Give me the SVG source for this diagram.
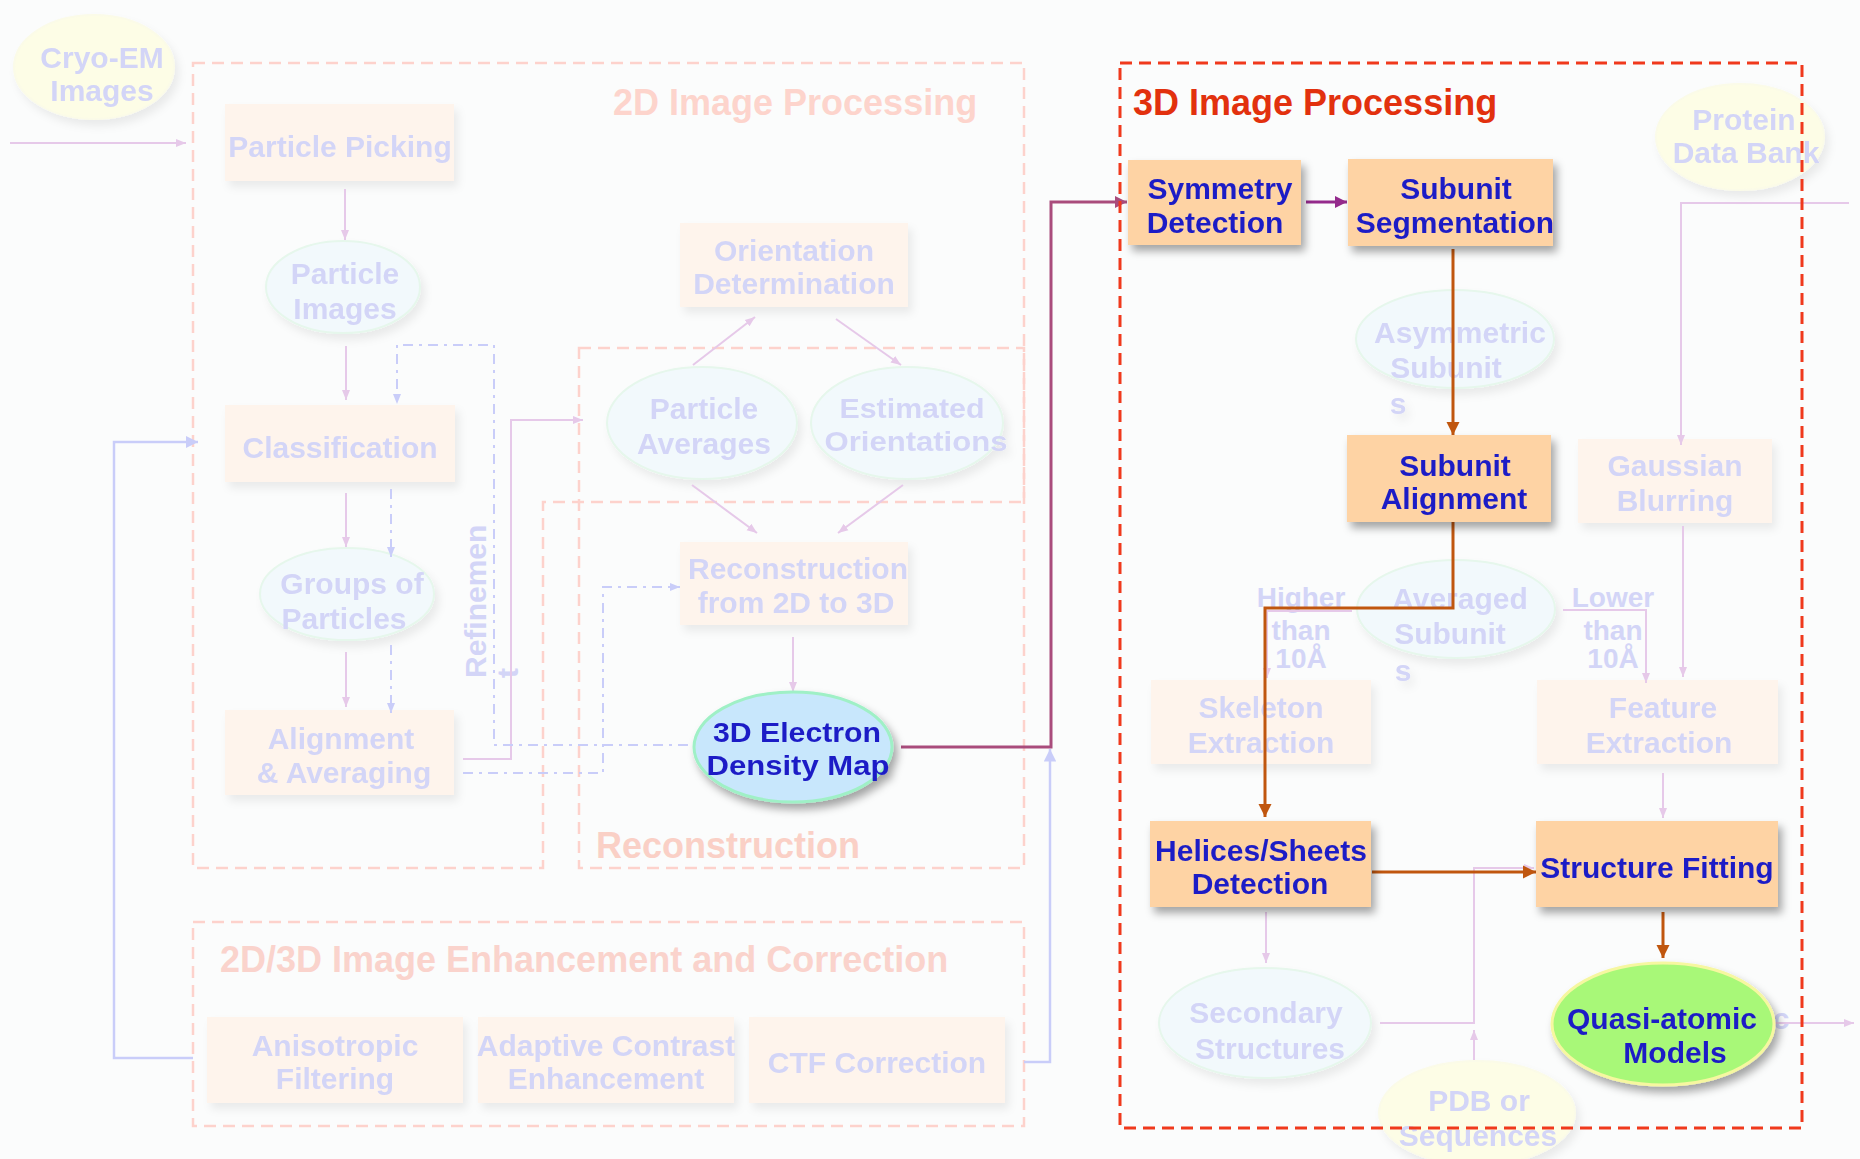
<svg xmlns="http://www.w3.org/2000/svg" width="1860" height="1159" viewBox="0 0 1860 1159">
<defs>
<style>
text{font-family:"Liberation Sans",Arial,sans-serif;font-weight:bold;text-anchor:middle}
.pt{fill:#d3d5f7;font-size:30px}
.bt{fill:#1f1fc6;font-size:30px}
.pb{fill:#fef4ec}
.pe{fill:#f2f9fc;stroke:#e6f7ec;stroke-width:2}
.py{fill:#fdfde6;stroke:#fbfbe8;stroke-width:2}
.bb{fill:#fed3a4}
.frame{fill:none;stroke:#fdd2cc;stroke-width:2.5;stroke-dasharray:12 7}
.red{fill:none;stroke:#f0391c;stroke-width:3;stroke-dasharray:12 7}
.ttl{font-size:36px;text-anchor:start}
.pk{fill:none;stroke:#e6c9e9;stroke-width:2}
.bl{fill:none;stroke:#c9cdf9;stroke-width:2.5}
.dd{fill:none;stroke:#c9cdf9;stroke-width:2;stroke-dasharray:10 6 3 6}
.pu{fill:none;stroke:#a94c7c;stroke-width:3}
.br{fill:none;stroke:#c0560e;stroke-width:3}
</style>
<marker id="apk" viewBox="0 0 10 10" refX="10" refY="5" markerWidth="5" markerHeight="5" orient="auto"><path d="M0,1 L10,5 L0,9 z" fill="#e6c9e9"/></marker>
<marker id="abl" viewBox="0 0 10 10" refX="10" refY="5" markerWidth="5" markerHeight="5" orient="auto"><path d="M0,0 L10,5 L0,10 z" fill="#c9cdf9"/></marker>
<marker id="add" viewBox="0 0 10 10" refX="10" refY="5" markerWidth="5" markerHeight="5" orient="auto"><path d="M0,1 L10,5 L0,9 z" fill="#c9cdf9"/></marker>
<marker id="apu" viewBox="0 0 10 10" refX="10" refY="5" markerWidth="4" markerHeight="4" orient="auto"><path d="M0,0 L10,5 L0,10 z" fill="#a94c7c"/></marker>
<marker id="apv" viewBox="0 0 10 10" refX="10" refY="5" markerWidth="4" markerHeight="4" orient="auto"><path d="M0,0 L10,5 L0,10 z" fill="#942a8c"/></marker>
<marker id="abr" viewBox="0 0 10 10" refX="10" refY="5" markerWidth="4.5" markerHeight="4.5" orient="auto"><path d="M0,0 L10,5 L0,10 z" fill="#c0560e"/></marker>
<filter id="sh" x="-20%" y="-20%" width="150%" height="160%"><feDropShadow dx="4" dy="6" stdDeviation="4" flood-color="#000" flood-opacity="0.35"/></filter>
<filter id="shp" x="-20%" y="-20%" width="150%" height="160%"><feDropShadow dx="4" dy="6" stdDeviation="4" flood-color="#000" flood-opacity="0.07"/></filter>
</defs>
<rect width="1860" height="1159" fill="#fbfcfc"/>

<g id="frames">
<path id="frame-2d" class="frame" d="M193,63 H1024 V502 H543 V868 H193 Z"/>
<rect id="frame-recon" class="frame" x="579" y="348" width="445" height="520"/>
<rect id="frame-enh" class="frame" x="193" y="922" width="831" height="204"/>
<text class="ttl" x="613" y="115" fill="#fdd4cc">2D Image Processing</text>
<text class="ttl" x="596" y="858" fill="#fad0c6">Reconstruction</text>
<text class="ttl" x="220" y="972" fill="#fad3cc">2D/3D Image Enhancement and Correction</text>
</g>

<g id="pale-nodes" filter="url(#shp)">
<g id="cryo-em"><ellipse class="py" cx="94" cy="67" rx="80" ry="52"/><text class="pt" x="102" y="68">Cryo-EM</text><text class="pt" x="102" y="101">Images</text></g>
<g id="particle-picking"><rect class="pb" x="225" y="104" width="229" height="77"/><text class="pt" x="340" y="157">Particle Picking</text></g>
<g id="particle-images"><ellipse class="pe" cx="343" cy="287" rx="77" ry="46"/><text class="pt" x="345" y="284">Particle</text><text class="pt" x="345" y="319">Images</text></g>
<g id="classification"><rect class="pb" x="225" y="405" width="230" height="77"/><text class="pt" x="340" y="458">Classification</text></g>
<g id="groups"><ellipse class="pe" cx="347" cy="594" rx="87" ry="46"/><text class="pt" x="352" y="594">Groups of</text><text class="pt" x="344" y="629">Particles</text></g>
<g id="alignment-averaging"><rect class="pb" x="225" y="710" width="229" height="85"/><text class="pt" x="341" y="749">Alignment</text><text class="pt" x="344" y="783">&amp; Averaging</text></g>
<g id="orientation"><rect class="pb" x="680" y="223" width="228" height="84"/><text class="pt" x="794" y="261">Orientation</text><text class="pt" x="794" y="294">Determination</text></g>
<g id="particle-averages"><ellipse class="pe" cx="702" cy="423" rx="95" ry="56"/><text class="pt" x="704" y="419">Particle</text><text class="pt" x="704" y="454">Averages</text></g>
<g id="estimated-orientations"><ellipse class="pe" cx="907" cy="423" rx="96" ry="56"/><text class="pt" x="912" y="418" style="font-size:28px" textLength="145" lengthAdjust="spacingAndGlyphs">Estimated</text><text class="pt" x="916" y="451" style="font-size:28px" textLength="183" lengthAdjust="spacingAndGlyphs">Orientations</text></g>
<g id="reconstruction"><rect class="pb" x="680" y="542" width="228" height="83"/><text class="pt" x="798" y="579">Reconstruction</text><text class="pt" x="796" y="613">from 2D to 3D</text></g>
<g id="anisotropic"><rect class="pb" x="207" y="1017" width="256" height="86"/><text class="pt" x="335" y="1056">Anisotropic</text><text class="pt" x="335" y="1089">Filtering</text></g>
<g id="adaptive"><rect class="pb" x="478" y="1017" width="256" height="86"/><text class="pt" x="606" y="1056">Adaptive Contrast</text><text class="pt" x="606" y="1089">Enhancement</text></g>
<g id="ctf"><rect class="pb" x="749" y="1017" width="256" height="86"/><text class="pt" x="877" y="1073">CTF Correction</text></g>
<g id="protein-data-bank"><ellipse class="py" cx="1740" cy="137" rx="84" ry="53"/><text class="pt" x="1744" y="130">Protein</text><text class="pt" x="1746" y="163">Data Bank</text></g>
<g id="asymmetric"><ellipse class="pe" cx="1455" cy="339" rx="99" ry="49"/><text class="pt" x="1460" y="343">Asymmetric</text><text class="pt" x="1446" y="378">Subunit</text><text class="pt" x="1398" y="414">s</text></g>
<g id="gaussian"><rect class="pb" x="1578" y="439" width="194" height="84"/><text class="pt" x="1675" y="476">Gaussian</text><text class="pt" x="1675" y="511">Blurring</text></g>
<g id="averaged"><ellipse class="pe" cx="1456" cy="609" rx="99" ry="49"/><text class="pt" x="1460" y="609">Averaged</text><text class="pt" x="1450" y="644">Subunit</text><text class="pt" x="1403" y="681">s</text></g>
<g id="skeleton"><rect class="pb" x="1151" y="680" width="220" height="84"/><text class="pt" x="1261" y="718">Skeleton</text><text class="pt" x="1261" y="753">Extraction</text></g>
<g id="feature"><rect class="pb" x="1537" y="680" width="241" height="84"/><text class="pt" x="1663" y="718">Feature</text><text class="pt" x="1659" y="753">Extraction</text></g>
<g id="secondary"><ellipse class="pe" cx="1265" cy="1023" rx="106" ry="55"/><text class="pt" x="1266" y="1023">Secondary</text><text class="pt" x="1270" y="1059">Structures</text></g>
<g id="pdb"><ellipse class="py" cx="1477" cy="1113" rx="98" ry="52"/><text class="pt" x="1479" y="1111">PDB or</text><text class="pt" x="1478" y="1146">Sequences</text></g>
</g>

<g id="labels">
<text class="pt" transform="translate(486,678) rotate(-90)" style="text-anchor:start"><tspan x="0" y="0">Refinemen</tspan><tspan x="0" dy="32">t</tspan></text>
<text class="pt" x="1301" y="607" style="font-size:28px">Higher</text>
<text class="pt" x="1301" y="640" style="font-size:28px">than</text>
<text class="pt" x="1301" y="668" style="font-size:28px">10Å</text>
<text class="pt" x="1613" y="607" style="font-size:28px">Lower</text>
<text class="pt" x="1613" y="640" style="font-size:28px">than</text>
<text class="pt" x="1613" y="668" style="font-size:28px">10Å</text>
<text class="pt" x="1781" y="1029">c</text>
</g>

<g id="connectors">
<path class="pk" d="M10,143 H186" marker-end="url(#apk)"/>
<path class="pk" d="M345,189 V240" marker-end="url(#apk)"/>
<path class="pk" d="M346,346 V400" marker-end="url(#apk)"/>
<path class="pk" d="M346,493 V547" marker-end="url(#apk)"/>
<path class="pk" d="M346,652 V707" marker-end="url(#apk)"/>
<path class="pk" d="M463,759 H511 V420 H583" marker-end="url(#apk)"/>
<path class="pk" d="M693,365 L755,317" marker-end="url(#apk)"/>
<path class="pk" d="M836,319 L901,365" marker-end="url(#apk)"/>
<path class="pk" d="M692,485 L757,533" marker-end="url(#apk)"/>
<path class="pk" d="M903,485 L838,533" marker-end="url(#apk)"/>
<path class="pk" d="M793,637 V692" marker-end="url(#apk)"/>
<path class="pk" d="M1849,203 H1681 V445" marker-end="url(#apk)"/>
<path class="pk" d="M1683,526 V677" marker-end="url(#apk)"/>
<path class="pk" d="M1563,610 H1646 V683" marker-end="url(#apk)"/>
<path class="pk" d="M1352,611 H1267 V678" marker-end="url(#apk)"/>
<path class="pk" d="M1663,773 V818" marker-end="url(#apk)"/>
<path class="pk" d="M1266,912 V963" marker-end="url(#apk)"/>
<path class="pk" d="M1380,1023 H1474 V868 H1534" marker-end="url(#apk)"/>
<path class="pk" d="M1474,1060 V1030" marker-end="url(#apk)"/>
<path class="pk" d="M1774,1023 H1854" marker-end="url(#apk)"/>
<path class="bl" d="M193,1058 H114 V442 H198" marker-end="url(#abl)"/>
<path class="bl" d="M1024,1062 H1050 V749" marker-end="url(#abl)"/>
<path class="dd" d="M688,745 H494 V345 H397 V404" marker-end="url(#add)"/>
<path class="dd" d="M463,773 H603 V587 H680" marker-end="url(#add)"/>
<path class="dd" d="M391,489 V557" marker-end="url(#add)"/>
<path class="dd" d="M391,645 V713" marker-end="url(#add)"/>
<path class="pu" d="M901,747 H1051 V202 H1127" marker-end="url(#apu)"/>
<path class="pu" style="stroke:#942a8c" d="M1306,202 H1347" marker-end="url(#apv)"/>
<path class="br" d="M1453,249 V435" marker-end="url(#abr)"/>
<path class="br" d="M1453,522 V608 H1265 V817" marker-end="url(#abr)"/>
<path class="br" d="M1372,872 H1536" marker-end="url(#abr)"/>
<path class="br" d="M1663,912 V958" marker-end="url(#abr)"/>
</g>

<g id="bright-nodes" filter="url(#sh)">
<g id="density-map"><ellipse cx="793" cy="747" rx="99" ry="55" fill="#c8e7fc" stroke="#9ff0c6" stroke-width="3"/><text class="bt" x="797" y="742" style="font-size:28px" textLength="168" lengthAdjust="spacingAndGlyphs">3D Electron</text><text class="bt" x="798" y="775" style="font-size:28px" textLength="183" lengthAdjust="spacingAndGlyphs">Density Map</text></g>
<g id="symmetry"><rect class="bb" x="1128" y="160" width="173" height="85"/><text class="bt" x="1220" y="199">Symmetry</text><text class="bt" x="1215" y="233">Detection</text></g>
<g id="segmentation"><rect class="bb" x="1348" y="159" width="205" height="87"/><text class="bt" x="1456" y="199">Subunit</text><text class="bt" x="1455" y="233">Segmentation</text></g>
<g id="subunit-alignment"><rect class="bb" x="1347" y="435" width="204" height="87"/><text class="bt" x="1455" y="476">Subunit</text><text class="bt" x="1454" y="509">Alignment</text></g>
<g id="helices"><rect class="bb" x="1150" y="821" width="221" height="86"/><text class="bt" x="1261" y="861">Helices/Sheets</text><text class="bt" x="1260" y="894">Detection</text></g>
<g id="structure-fitting"><rect class="bb" x="1536" y="821" width="242" height="86"/><text class="bt" x="1657" y="878">Structure Fitting</text></g>
<g id="quasi-atomic"><ellipse cx="1663" cy="1024" rx="111" ry="61" fill="#a8f878" stroke="#f6f7a0" stroke-width="3"/><text class="bt" x="1662" y="1029">Quasi-atomic</text><text class="bt" x="1675" y="1063">Models</text></g>
</g>

<g id="frame-3d">
<rect class="red" x="1120" y="63" width="682" height="1065"/>
<text class="ttl" x="1133" y="115" fill="#e2310e">3D Image Processing</text>
</g>
</svg>
